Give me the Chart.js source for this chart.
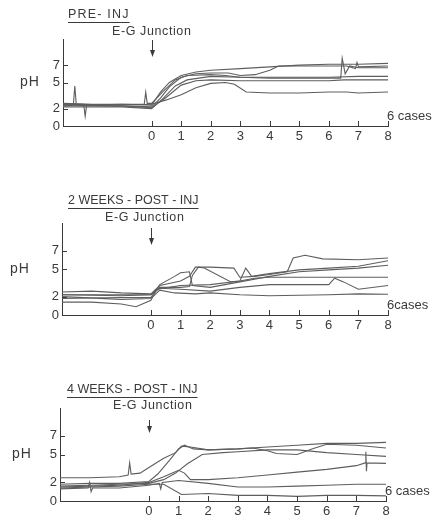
<!DOCTYPE html>
<html>
<head>
<meta charset="utf-8">
<script src="https://cdn.jsdelivr.net/npm/chart.js@4.4.1/dist/chart.umd.min.js"></script>
<style>
  html, body { margin: 0; padding: 0; background: #fff; width: 434px; height: 517px; overflow: hidden; }
  canvas { position: absolute; left: 0; }
</style>
</head>
<body>
<canvas id="pre" width="434" height="150" style="top:0px"></canvas>
<canvas id="wk2" width="434" height="160" style="top:175px"></canvas>
<canvas id="wk4" width="434" height="172" style="top:345px"></canvas>
<script>
// axis ticks (hours around the E-G junction / pH)
const xTicks = [0, 1, 2, 3, 4, 5, 6, 7, 8];
const yTicks = [0, 2, 5, 7];
const titles = ["PRE- INJ", "2 WEEKS - POST - INJ", "4 WEEKS - POST - INJ"];

// PRE-INJ, 6 cases: [x, pH]
const pre1 = [[-3,2.6],[-2,2.5],[-1,2.5],[0,2.4],[0.3,3.9],[0.6,5.0],[1,5.8],[1.5,6.2],[2,6.4],[3,6.6],[4,6.8],[5,7.0],[6,7.1],[7,7.1],[8,7.2]];
const pre2 = [[-3,2.3],[-2.65,2.4],[-2.6,4.6],[-2.55,2.4],[-1,2.3],[0,2.2],[0.3,3.2],[0.6,4.5],[1,5.6],[1.5,6.0],[2,6.1],[2.6,6.1],[3,5.8],[3.5,5.9],[4,6.4],[4.3,6.9],[5,6.9],[6,6.9],[6.6,6.9],[6.9,6.6],[6.95,7.3],[7,6.8],[8,6.9]];
const pre3 = [[-3,2.5],[-2.3,2.5],[-2.25,1.1],[-2.2,2.4],[-1,2.5],[-0.25,2.5],[-0.2,3.9],[-0.15,2.6],[0,2.6],[0.4,4.0],[0.8,5.3],[1.2,5.8],[2,5.9],[2.5,5.8],[3,5.6],[4,5.5],[5,5.5],[6,5.5],[6.4,5.5],[6.45,7.8],[6.55,6.0],[6.7,6.9],[7,6.7],[8,6.7]];
const pre4 = [[-3,2.2],[-1,2.2],[0,2.0],[0.4,3.2],[0.8,4.6],[1.2,5.3],[2,5.7],[3,5.6],[4,5.6],[5,5.6],[6,5.6],[7,5.7],[8,5.7]];
const pre5 = [[-3,2.4],[-1,2.3],[0,2.1],[0.5,3.3],[1,4.7],[1.5,5.2],[2,5.3],[3,5.2],[4,5.2],[5,5.2],[6,5.2],[6.5,5.3],[7,5.3],[8,5.3]];
const pre6 = [[-3,2.5],[-1,2.4],[0,2.5],[0.5,3.0],[1,3.6],[1.5,4.4],[2,4.9],[2.5,5.0],[2.8,4.8],[3.2,3.9],[4,3.8],[5,3.8],[6,3.9],[6.6,3.9],[7,3.8],[8,3.9]];

// 2 WEEKS-POST-INJ
const wk2_1 = [[-3,2.5],[-2,2.6],[-1,2.4],[0,2.3],[0.3,3.2],[1,3.7],[1.3,4.2],[1.5,5.2],[2,5.2],[2.8,5.1],[3,4.1],[3.5,4.2],[4,4.4],[4.6,4.7],[4.8,6.2],[5.2,6.5],[5.8,6.1],[7,6.0],[8,6.2]];
const wk2_2 = [[-3,2.2],[-1,2.1],[0,2.2],[0.3,3.0],[1,3.0],[1.3,3.1],[1.4,4.3],[1.6,5.2],[1.8,5.1],[2.7,3.6],[3.0,3.7],[3.2,5.1],[3.4,4.2],[4,4.5],[5,4.9],[6,5.1],[7,5.3],[8,5.9]];
const wk2_3 = [[-3,1.8],[-1,1.9],[0,1.9],[0.3,3.3],[0.8,4.2],[1.0,4.6],[1.3,4.7],[1.4,3.2],[2,3.0],[3,3.6],[4,4.2],[5,4.7],[6,4.9],[7,5.1],[8,5.4]];
const wk2_4 = [[-3,1.4],[-2,1.4],[-1,1.2],[-0.5,0.9],[0,1.6],[0.2,2.8],[1,3.2],[2,3.3],[3,3.7],[3.5,4.0],[4,4.1],[6,4.1],[8,4.1]];
const wk2_5 = [[-3,2.2],[-1,2.2],[0,2.2],[0.3,2.9],[1,2.8],[2,2.6],[3,3.0],[4,3.3],[6,3.3],[6.2,4.0],[6.5,3.6],[7,2.8],[8,3.2]];
const wk2_6 = [[-3,2.0],[-1,1.7],[0,1.8],[0.3,2.7],[0.8,2.4],[1.5,2.3],[2,2.4],[3,2.2],[4,2.1],[6,2.2],[7,2.3],[8,2.25]];

// 4 WEEKS-POST-INJ
const wk4_1 = [[-3,2.5],[-2,2.5],[-1,2.6],[-0.7,2.8],[-0.65,4.1],[-0.6,2.9],[-0.3,3.0],[0,3.6],[0.5,4.6],[0.9,5.2],[1.1,5.9],[1.4,5.8],[2,5.5],[3,5.6],[4,5.8],[5,6.0],[6,6.2],[7,6.2],[8,6.3]];
const wk4_2 = [[-3,1.8],[-2,1.9],[-1,1.9],[0,2.1],[0.3,2.9],[0.7,4.4],[1.0,5.6],[1.2,6.0],[1.5,5.6],[2,5.5],[3,5.6],[3.5,5.7],[4,5.4],[4.3,5.1],[5,5.0],[5.5,5.6],[6,6.1],[7,6.0],[8,5.7]];
const wk4_3 = [[-3,1.6],[-2,1.7],[-1,1.8],[0,1.9],[0.5,2.3],[0.9,3.0],[1.3,4.0],[1.8,5.0],[2.5,5.2],[3,5.3],[4,5.5],[5,5.5],[6,5.2],[7,5.0],[8,4.8]];
const wk4_4 = [[-3,1.5],[-2,1.6],[-1,1.7],[0,2.0],[0.5,2.6],[1,3.3],[1.2,3.0],[1.4,2.3],[2,2.3],[3,2.5],[4,2.8],[5,3.1],[6,3.4],[7,3.8],[7.3,4.1],[7.32,5.3],[7.34,3.2],[7.36,4.1],[8,4.05]];
const wk4_5 = [[-3,1.3],[-2.05,1.4],[-2.0,2.0],[-1.95,1.0],[-1.9,1.4],[-1,1.4],[0,1.7],[0.35,1.9],[0.4,1.3],[0.45,2.0],[1,2.2],[2,1.9],[3,1.5],[4,1.5],[5,1.6],[6,1.7],[7,1.8],[8,1.8]];
const wk4_6 = [[-3,1.4],[-1,1.6],[0,1.8],[0.5,1.8],[1.1,0.7],[2,0.8],[3,0.6],[4,0.6],[5,0.5],[6,0.6],[7,0.6],[8,0.55]];

const lineColor = "#5e5e5e";
const inkColor = "#3a3a3a";
const font = '"Liberation Sans", Arial, sans-serif';

// draws inward ticks, panel title, E-G Junction arrow, pH and "6 cases"
const decoPlugin = {
  id: "deco",
  afterDraw(chart, args, o) {
    const ctx = chart.ctx;
    const x = chart.scales.x;
    const y = chart.scales.y;
    ctx.save();
    ctx.strokeStyle = inkColor;
    ctx.fillStyle = inkColor;
    ctx.lineWidth = 1;

    xTicks.forEach((v) => {
      const px = Math.round(x.getPixelForValue(v)) + 0.5;
      ctx.beginPath();
      ctx.moveTo(px, y.bottom);
      ctx.lineTo(px, y.bottom - 5);
      ctx.stroke();
    });
    yTicks.forEach((v) => {
      if (v === 0) return;
      const py = Math.round(y.getPixelForValue(v)) + 0.5;
      ctx.beginPath();
      ctx.moveTo(x.left, py);
      ctx.lineTo(x.left + 5, py);
      ctx.stroke();
    });

    ctx.textBaseline = "middle";
    ctx.textAlign = "left";
    ctx.font = "12.5px " + font;
    ctx.letterSpacing = o.titleSpacing;
    ctx.fillText(o.title, o.titleX, o.titleY);
    const w = ctx.measureText(o.title).width;
    ctx.beginPath();
    ctx.moveTo(o.titleX, o.titleY + 7.5);
    ctx.lineTo(o.titleX + w, o.titleY + 7.5);
    ctx.stroke();

    ctx.font = "12.5px " + font;
    ctx.letterSpacing = "0.6px";
    ctx.fillText("E-G Junction", o.egX, o.egY);
    ctx.letterSpacing = "0px";

    // arrow at x = 0
    const x0 = Math.round(x.getPixelForValue(0)) + 0.5;
    ctx.beginPath();
    ctx.moveTo(x0, o.arrowTop);
    ctx.lineTo(x0, o.arrowBot - 4);
    ctx.stroke();
    ctx.beginPath();
    ctx.moveTo(x0 - 2.5, o.arrowBot - 7);
    ctx.lineTo(x0 + 2.5, o.arrowBot - 7);
    ctx.lineTo(x0, o.arrowBot);
    ctx.closePath();
    ctx.fill();

    ctx.font = "14px " + font;
    ctx.letterSpacing = "1px";
    ctx.fillText("pH", o.phX, y.getPixelForValue(5));

    ctx.font = "13px " + font;
    ctx.letterSpacing = "0px";
    ctx.fillText(o.casesText, x.getPixelForValue(8) - 1, y.bottom - 10);
    ctx.restore();
  }
};

function makePanel(id, series, deco, lay) {
  new Chart(document.getElementById(id), {
    type: "line",
    data: {
      datasets: series.map((s) => ({
        data: s.map((p) => ({ x: p[0], y: p[1] })),
        borderColor: lineColor,
        borderWidth: 1.1,
        pointRadius: 0,
        tension: 0,
        fill: false
      }))
    },
    options: {
      responsive: false,
      animation: false,
      events: [],
      layout: { padding: { top: lay.top, right: lay.right, left: 0, bottom: 0 } },
      plugins: { legend: { display: false }, tooltip: { enabled: false }, deco: deco },
      scales: {
        x: {
          type: "linear",
          min: -3,
          max: 8,
          grid: { display: false, drawTicks: false },
          border: { display: true, color: inkColor, width: 1 },
          afterBuildTicks: (s) => { s.ticks = xTicks.map((v) => ({ value: v })); },
          afterFit: (s) => { s.height = lay.xh; },
          ticks: { color: inkColor, padding: 3, maxRotation: 0, autoSkip: false, font: { family: font, size: 13 } }
        },
        y: {
          type: "linear",
          min: 0,
          max: 10,
          grid: { display: false, drawTicks: false },
          border: { display: true, color: inkColor, width: 1 },
          afterBuildTicks: (s) => { s.ticks = yTicks.map((v) => ({ value: v })); },
          afterFit: (s) => { s.width = lay.left; },
          ticks: { color: inkColor, padding: 3, autoSkip: false, font: { family: font, size: 13 } }
        }
      }
    },
    plugins: [decoPlugin]
  });
}

makePanel("pre", [pre1, pre2, pre3, pre4, pre5, pre6],
  { title: titles[0], titleSpacing: "1.2px", titleX: 68, titleY: 15, egX: 112, egY: 32, arrowTop: 40, arrowBot: 57, phX: 20, casesText: "6 cases" },
  { top: 39, right: 46, xh: 24, left: 63 });

makePanel("wk2", [wk2_1, wk2_2, wk2_3, wk2_4, wk2_5, wk2_6],
  { title: titles[1], titleSpacing: "0px", titleX: 68, titleY: 26, egX: 105, egY: 43, arrowTop: 53, arrowBot: 70, phX: 10, casesText: "6cases" },
  { top: 48, right: 46, xh: 20, left: 62 });

makePanel("wk4", [wk4_1, wk4_2, wk4_3, wk4_4, wk4_5, wk4_6],
  { title: titles[2], titleSpacing: "0px", titleX: 67, titleY: 45, egX: 113, egY: 61, arrowTop: 75, arrowBot: 88, phX: 12, casesText: "6 cases" },
  { top: 63, right: 48, xh: 16, left: 60 });
</script>
</body>
</html>
